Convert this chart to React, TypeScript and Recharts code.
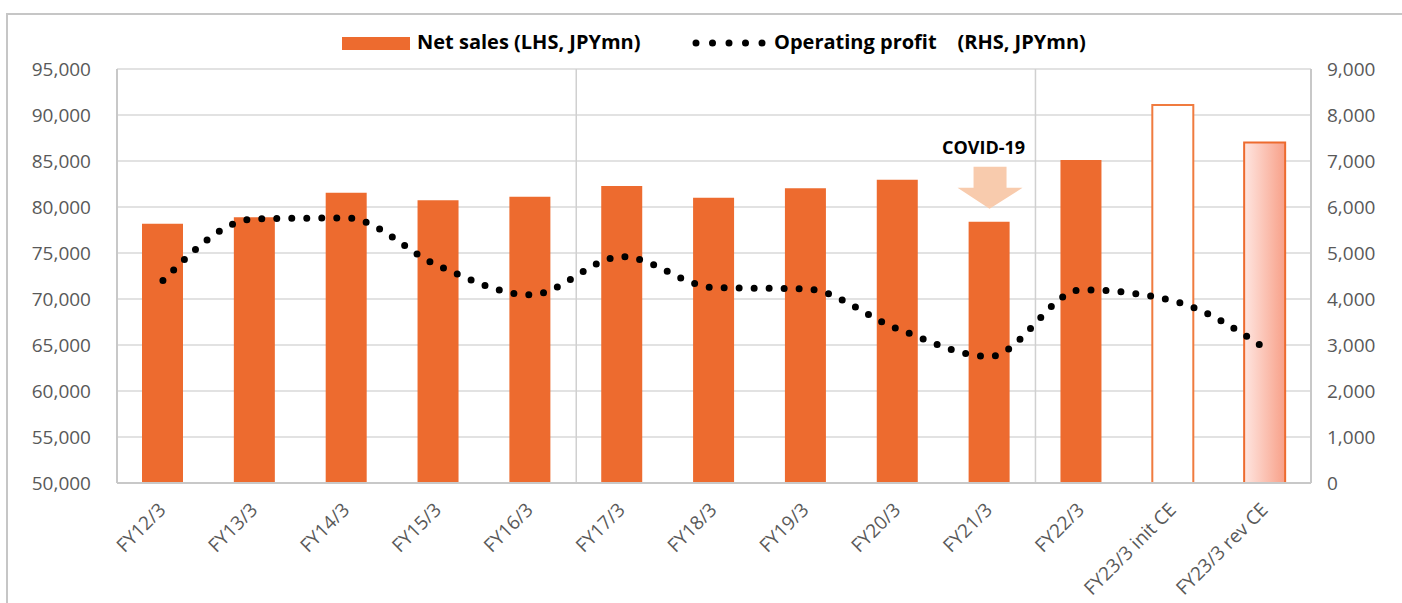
import { ComposedChart, Bar, Line, XAxis, YAxis, CartesianGrid, ReferenceLine, ReferenceDot, Cell } from 'recharts';

const categories = ['FY12/3', 'FY13/3', 'FY14/3', 'FY15/3', 'FY16/3', 'FY17/3', 'FY18/3', 'FY19/3', 'FY20/3', 'FY21/3', 'FY22/3', 'FY23/3 init CE', 'FY23/3 rev CE'];
const netSales = [78180, 78880, 81550, 80730, 81120, 82280, 81000, 82050, 82950, 78400, 85100, 91100, 87000];
const operatingProfit = [4400, 5740, 5760, 4720, 4090, 4920, 4250, 4220, 3350, 2750, 4200, 3960, 2930];
const leftTicks = [50000, 55000, 60000, 65000, 70000, 75000, 80000, 85000, 90000, 95000];
const rightTicks = [0, 1000, 2000, 3000, 4000, 5000, 6000, 7000, 8000, 9000];
// period separators sit at the right edge of these categories
const separators = ['FY16/3', 'FY21/3'];

const ORANGE = '#ED6B2F';
const FONT = "'Open Sans', sans-serif";

const data = categories.map((name, i) => ({ name, sales: netSales[i], op: operatingProfit[i] }));

const fmt = (v: number) => v.toLocaleString('en-US');

function XTick({ x, y, payload }: any) {
  const ax = x + 4;
  const ay = y + 20;
  return (
    <text x={ax} y={ay} transform={`rotate(-45 ${ax} ${ay})`} textAnchor="end" fill="#595959" fontSize={19} fontFamily={FONT}>
      {payload.value}
    </text>
  );
}

function CovidMarker({ cx, cy }: any) {
  const arrow = [
    [cx - 16, cy - 42], [cx + 17, cy - 42], [cx + 17, cy - 21], [cx + 33, cy - 21],
    [cx, cy], [cx - 32, cy - 21], [cx - 16, cy - 21],
  ].map(p => p.join(',')).join(' ');
  return (
    <g>
      <text x={cx - 6} y={cy - 55} textAnchor="middle" fontSize={18} fontWeight="bold" fontFamily={FONT} fill="#000">COVID-19</text>
      <polygon points={arrow} fill="#F8CBAD" />
    </g>
  );
}

function barFill(i: number) {
  if (i === 11) return { fill: '#FFFFFF', stroke: '#F07B3F', strokeWidth: 2 };
  if (i === 12) return { fill: 'url(#revGrad)', stroke: ORANGE, strokeWidth: 2 };
  return { fill: ORANGE, stroke: 'none', strokeWidth: 0 };
}

export default function App() {
  return (
    <div style={{ position: 'absolute', left: 0, top: 0, width: 1402, height: 603, background: '#fff', fontFamily: FONT, overflow: 'hidden' }}>
      <div style={{ position: 'absolute', left: 6, top: 13, width: 1400, height: 600, borderTop: '2px solid #C6C6C6', borderLeft: '2px solid #C6C6C6' }} />

      {/* legend */}
      <div style={{ position: 'absolute', left: 342, top: 37, width: 68, height: 13, background: ORANGE }} />
      <div style={{ position: 'absolute', left: 417, top: 29, fontSize: 20, fontWeight: 'bold', lineHeight: '26px', whiteSpace: 'pre' }}>
        Net sales (LHS, JPYmn)
      </div>
      <svg style={{ position: 'absolute', left: 690, top: 36 }} width={84} height={14}>
        <line x1={6} y1={7} x2={78} y2={7} stroke="#000" strokeWidth={7} strokeDasharray="0 16.5" strokeLinecap="round" />
      </svg>
      <div style={{ position: 'absolute', left: 774, top: 29, fontSize: 20, fontWeight: 'bold', lineHeight: '26px', whiteSpace: 'pre' }}>
        {'Operating profit    (RHS, JPYmn)'}
      </div>

      <div style={{ position: 'absolute', left: 0, top: 0 }}>
        <ComposedChart width={1402} height={603} data={data} margin={{ top: 69, right: 0, bottom: 0, left: 0 }}>
          <defs>
            <linearGradient id="revGrad" x1="0" y1="0" x2="1" y2="0">
              <stop offset="0%" stopColor="#FEE6E1" />
              <stop offset="100%" stopColor="#F8A088" />
            </linearGradient>
          </defs>
          <CartesianGrid xAxisId="cat" yAxisId="left" vertical={false} stroke="#D9D9D9" strokeWidth={1.5} />
          <XAxis xAxisId="cat" dataKey="name" interval={0} height={120} tick={<XTick />} tickLine={false} axisLine={{ stroke: '#C8C8C8', strokeWidth: 2 }} />
          <YAxis yAxisId="left" orientation="left" width={117} domain={[50000, 95000]} ticks={leftTicks} tickFormatter={fmt}
            tickLine={false} tickSize={0} tickMargin={26} axisLine={{ stroke: '#C8C8C8', strokeWidth: 2 }}
            tick={{ fill: '#595959', fontSize: 19, fontFamily: FONT }} />
          <YAxis yAxisId="right" orientation="right" width={91} domain={[0, 9000]} ticks={rightTicks} tickFormatter={fmt}
            tickLine={false} tickSize={0} tickMargin={16} axisLine={{ stroke: '#C8C8C8', strokeWidth: 2 }}
            tick={{ fill: '#595959', fontSize: 19, fontFamily: FONT }} />
          {separators.map(s => (
            <ReferenceLine key={s} xAxisId="cat" yAxisId="left" x={s} position="end" stroke="#D0D0D0" strokeWidth={1.5} />
          ))}
          <Bar xAxisId="cat" yAxisId="left" dataKey="sales" barSize={41} isAnimationActive={false}>
            {data.map((_, i) => (
              <Cell key={i} {...barFill(i)} />
            ))}
          </Bar>
          <Line xAxisId="cat" yAxisId="right" dataKey="op" type="monotone" stroke="#000" strokeWidth={7}
            strokeDasharray="0 15" strokeLinecap="round" dot={false} activeDot={false} isAnimationActive={false} />
          <ReferenceDot xAxisId="cat" yAxisId="left" x="FY21/3" y={79800} r={0} shape={<CovidMarker />} />
        </ComposedChart>
      </div>
    </div>
  );
}
